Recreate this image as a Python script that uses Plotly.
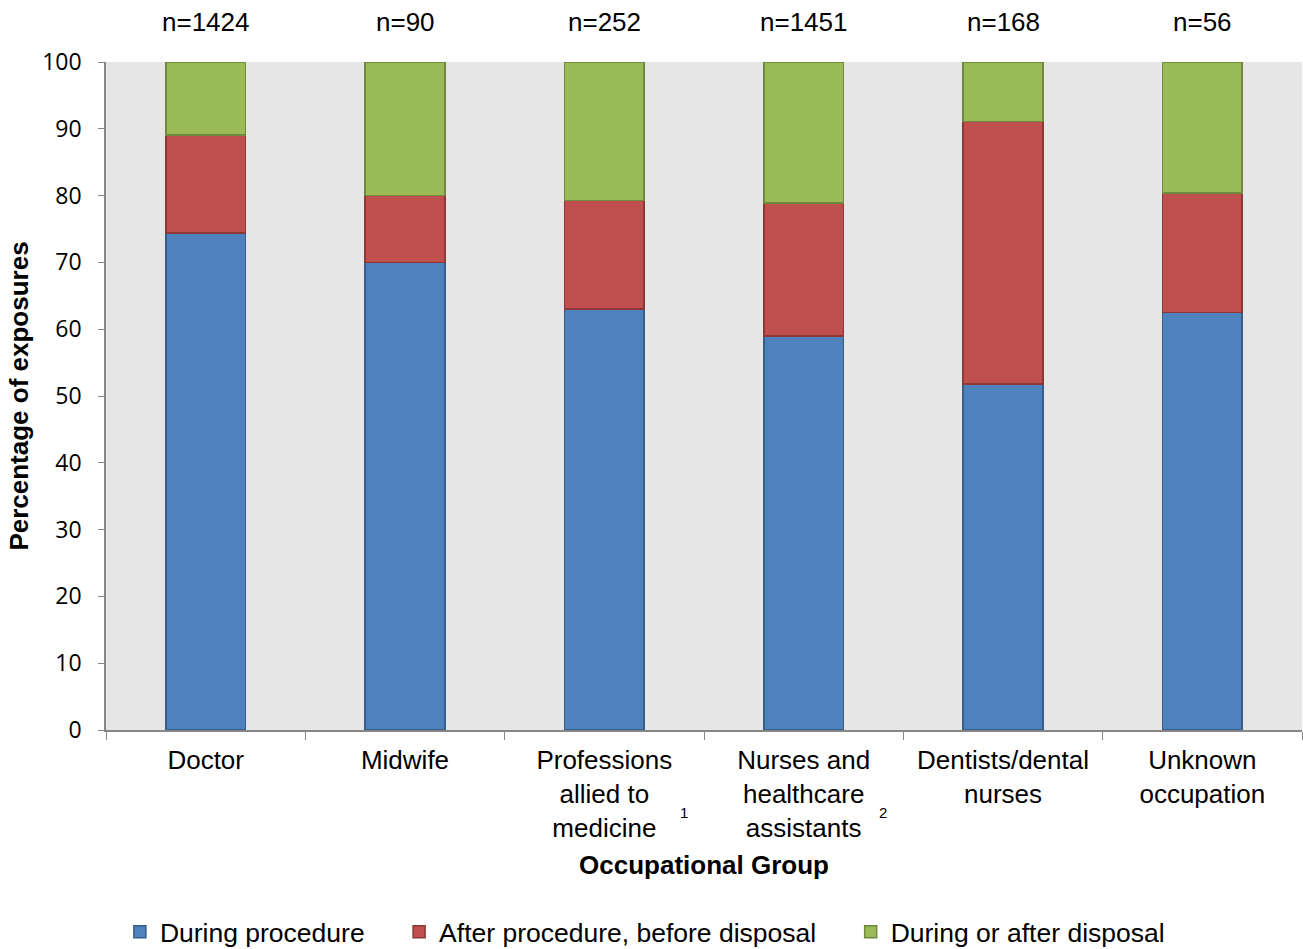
import plotly.graph_objects as go

# Occupational groups and sample sizes
groups = ["Doctor", "Midwife", "Professions allied to medicine",
          "Nurses and healthcare assistants", "Dentists/dental nurses",
          "Unknown occupation"]
group_labels = ["Doctor", "Midwife", "Professions<br>allied to<br>medicine",
                "Nurses and<br>healthcare<br>assistants", "Dentists/dental<br>nurses",
                "Unknown<br>occupation"]
n_counts = [1424, 90, 252, 1451, 168, 56]
footnotes = {"Professions allied to medicine": "1",
             "Nurses and healthcare assistants": "2"}

# Percentage of exposures by timing of exposure
during_procedure = [74.4, 70.0, 63.0, 59.0, 51.8, 62.5]
after_before_disposal = [14.7, 10.0, 16.3, 19.9, 39.3, 17.9]
during_after_disposal = [10.9, 20.0, 20.7, 21.1, 8.9, 19.6]

series = [
    ("During procedure", during_procedure, "#4F81BD", "#385D8A"),
    ("After procedure, before disposal", after_before_disposal, "#C0504D", "#8C3836"),
    ("During or after disposal", during_after_disposal, "#9BBB59", "#71893F"),
]

FONT = "Arial, Liberation Sans, sans-serif"
LABEL_FONT = dict(family=FONT, size=26, color="#000000")
TITLE_FONT = dict(family=FONT, size=26, color="#000000")

fig = go.Figure()
pad = "\u00a0" * 4
for i, (name, vals, fill, edge) in enumerate(series):
    fig.add_trace(go.Bar(
        x=groups, y=vals, name=name + (pad if i < len(series) - 1 else ""),
        marker=dict(color=fill, line=dict(color=edge, width=1.5)),
        width=0.4,
    ))

# sample size above each bar
for g, n in zip(groups, n_counts):
    fig.add_annotation(x=g, xref="x", y=1, yref="paper", yshift=40,
                       text=f"n={n}", showarrow=False, font=LABEL_FONT,
                       xanchor="center", yanchor="middle")

# footnote markers next to the category labels
for g, mark in footnotes.items():
    idx = groups.index(g)
    fig.add_annotation(x=idx + 0.4, xref="x", y=0, yref="paper", yshift=-82,
                       text=mark, showarrow=False,
                       font=dict(family=FONT, size=15, color="#000000"),
                       xanchor="center", yanchor="middle")

fig.update_layout(
    barmode="stack",
    width=1303, height=949,
    margin=dict(l=106, r=1, t=62, b=219, autoexpand=False),
    paper_bgcolor="#FFFFFF",
    plot_bgcolor="#E6E6E6",
    bargap=0.6,
    legend=dict(orientation="h", xref="container", x=0.092, xanchor="left",
                yref="container", y=0.0179, yanchor="middle",
                font=dict(family=FONT, size=26.5, color="#000000"),
                traceorder="normal", itemclick=False),
)

fig.update_xaxes(
    type="category", categoryorder="array", categoryarray=groups,
    tickmode="array", tickvals=groups, ticktext=group_labels,
    tickfont=LABEL_FONT, showline=True, linecolor="#868686", linewidth=1.5,
    ticks="outside", ticklen=8, tickcolor="#868686", tickson="boundaries",
    ticklabelstandoff=6,
    showgrid=False, zeroline=False,
    title=dict(text="<b>Occupational Group</b>", font=TITLE_FONT, standoff=14),
)
fig.update_yaxes(
    range=[0, 100], tickvals=list(range(0, 101, 10)),
    tickfont=dict(family="Open Sans, sans-serif", size=23, color="#000000"),
    showline=True, linecolor="#868686", linewidth=1.5,
    ticks="outside", ticklen=6, tickcolor="#868686", ticklabelstandoff=12,
    showgrid=False, zeroline=False,
    title=dict(text="<b>Percentage of exposures</b>", font=TITLE_FONT, standoff=6),
)

fig.write_html("out.html")
